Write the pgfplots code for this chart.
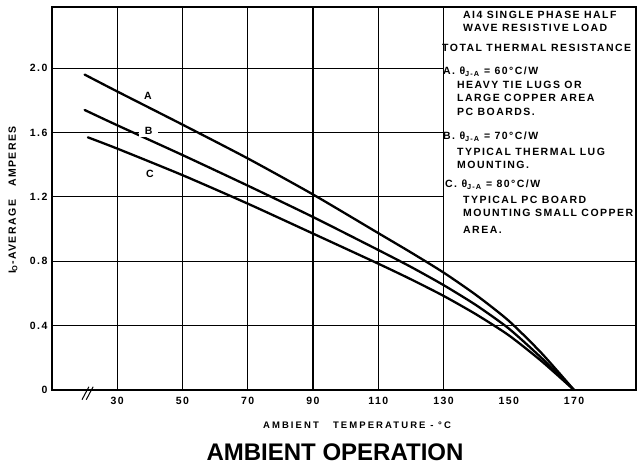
\documentclass[border=0pt]{standalone}
\usepackage{fontspec}
\setmainfont{Liberation Sans}
\newfontfamily\lr{Liberation Sans}[LetterSpace=14]
\newfontfamily\lrw{Liberation Sans}[LetterSpace=22]
\usepackage{pgfplots}
\pgfplotsset{compat=1.18}
\newcommand{\lrf}{\lr\bfseries\fontsize{10.5}{12}\selectfont}
\begin{document}
\begin{tikzpicture}
\useasboundingbox (0pt,0pt) rectangle (639pt,470pt);
\begin{axis}[
  at={(52pt,80pt)}, anchor=south west,
  scale only axis, width=584pt, height=383pt,
  xmin=10, xmax=189, ymin=0, ymax=2.38,
  xtick={30,50,70,90,110,130,150,170},
  xticklabels={30,50,70,90,110,130,150,170},
  ytick={0,0.4,0.8,1.2,1.6,2.0},
  yticklabels={0,0.4,0.8,1.2,1.6,2.0},
  major tick length=0pt,
  tick label style={font=\lrf},
  xticklabel style={yshift=-4pt},
  yticklabel style={xshift=-1pt},
  axis line style={line width=1.3pt},
  clip=false,
]
% grid lines
\draw[line width=1.1pt] (axis cs:30,0) -- (axis cs:30,2.38);
\draw[line width=1.1pt] (axis cs:50,0) -- (axis cs:50,2.38);
\draw[line width=1.1pt] (axis cs:70,0) -- (axis cs:70,2.38);
\draw[line width=1.1pt] (axis cs:90,0) -- (axis cs:90,2.38);
\draw[line width=1.1pt] (axis cs:110,0) -- (axis cs:110,2.38);
\draw[line width=1.1pt] (axis cs:130,0) -- (axis cs:130,2.38);
\draw[line width=1.1pt] (axis cs:10,0.4) -- (axis cs:189,0.4);
\draw[line width=1.1pt] (axis cs:10,0.8) -- (axis cs:189,0.8);
\draw[line width=1.1pt] (axis cs:10,1.2) -- (axis cs:130,1.2);
\draw[line width=1.1pt] (axis cs:10,1.6) -- (axis cs:130,1.6);
\draw[line width=1.1pt] (axis cs:10,2.0) -- (axis cs:130,2.0);
% axis break
\draw[line width=1pt] (axis cs:19.2,-0.06) -- (axis cs:21.3,0.02);
\draw[line width=1pt] (axis cs:20.5,-0.06) -- (axis cs:22.6,0.02);
% curves
\addplot[black, line width=2.3pt, smooth, tension=0.4, line cap=round] coordinates {
 (20,1.96) (30,1.855) (50,1.649) (70,1.439) (90,1.215) (110,0.975) (120,0.855) (130,0.73) (140,0.59) (150,0.43) (160,0.23) (170,0)};
\addplot[black, line width=2.3pt, smooth, tension=0.4, line cap=round] coordinates {
 (20,1.74) (30,1.645) (50,1.46) (70,1.27) (90,1.075) (110,0.87) (120,0.765) (130,0.652) (140,0.527) (150,0.382) (160,0.20) (170,0)};
\addplot[black, line width=2.3pt, smooth, tension=0.4, line cap=round] coordinates {
 (21,1.57) (30,1.50) (50,1.335) (70,1.158) (90,0.972) (110,0.785) (120,0.688) (130,0.585) (140,0.47) (150,0.34) (160,0.18) (170,0)};
\node[font=\lrf] at (axis cs:39.4,1.83) {A};
\node[font=\lrf, fill=white, inner xsep=6pt, inner ysep=2pt] at (axis cs:39.6,1.61) {B};
\node[font=\lrf] at (axis cs:40,1.34) {C};
\end{axis}
% labels
\node[font=\lr\bfseries\fontsize{10.5}{12}\selectfont, rotate=90] at (13pt,270pt) {I\textsubscript{O}-AVERAGE\ \ \ AMPERES};
\node[font=\lrw\bfseries\fontsize{9.5}{11}\selectfont] at (357pt,45pt) {AMBIENT\ \ \ TEMPERATURE - °C};
\node[font=\bfseries\fontsize{24}{28}\selectfont] at (335pt,18pt) {AMBIENT OPERATION};
% annotation box text
\begin{scope}[every node/.style={anchor=west, inner sep=0pt, font=\lrf}]
\node at (463pt,455pt) {AI4 SINGLE PHASE HALF};
\node at (463pt,442pt) {WAVE RESISTIVE LOAD};
\node at (442pt,422pt) {TOTAL THERMAL RESISTANCE};
\node at (443pt,398pt) {A. θ\textsubscript{J-A} = 60°C/W};
\node at (457pt,385pt) {HEAVY TIE LUGS OR};
\node at (457pt,372pt) {LARGE COPPER AREA};
\node at (457pt,358pt) {PC BOARDS.};
\node at (443pt,333pt) {B. θ\textsubscript{J-A} = 70°C/W};
\node at (457pt,318pt) {TYPICAL THERMAL LUG};
\node at (457pt,305pt) {MOUNTING.};
\node at (445pt,285pt) {C. θ\textsubscript{J-A} = 80°C/W};
\node at (463pt,270pt) {TYPICAL PC BOARD};
\node at (463pt,257pt) {MOUNTING SMALL COPPER};
\node at (463pt,240pt) {AREA.};
\end{scope}
\end{tikzpicture}
\end{document}
